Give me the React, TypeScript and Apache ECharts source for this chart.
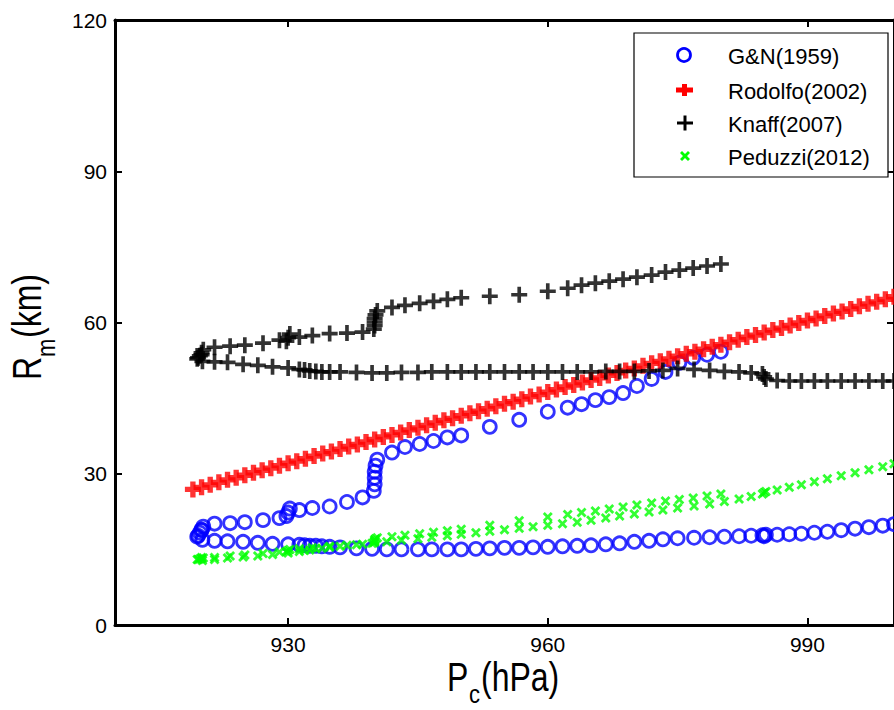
import React, { useEffect, useRef } from "react";
import * as echarts from "echarts";

const FONT = "'Liberation Sans', Arial, Helvetica, sans-serif";

const xTicks = [930, 960, 990];
const yTicks = [0, 30, 60, 90, 120];

const legendNames = ["G&N(1959)", "Rodolfo(2002)", "Knaff(2007)", "Peduzzi(2012)"];

// Intensification branch: central pressure falling from 980 to 920 hPa
const pcUp = [980.0, 978.4, 976.8, 975.2, 973.6, 972.0, 970.3, 968.7, 967.1, 965.5, 963.9, 962.3, 960.0, 956.7, 953.3, 950.0, 948.4, 946.8, 945.2, 943.5, 942.0, 940.3, 940.1, 940.0, 940.0, 940.0, 939.9, 938.6, 936.8, 934.8, 932.8, 931.3, 930.2, 930.0, 929.8, 929.0, 927.1, 925.0, 923.3, 921.5, 920.2, 920.0, 919.8, 919.6];
const gnUp = [54.2, 53.6, 53.0, 52.0, 50.2, 48.8, 47.4, 46.0, 45.2, 44.6, 43.8, 43.1, 42.3, 40.7, 39.3, 37.6, 37.2, 36.5, 35.9, 35.3, 34.2, 32.8, 31.6, 30.4, 29.2, 27.9, 26.6, 25.3, 24.4, 23.5, 23.2, 22.8, 23.1, 22.3, 21.6, 21.2, 20.8, 20.4, 20.2, 20.1, 19.5, 18.9, 18.3, 17.7];
const knUp = [71.6, 71.2, 70.8, 70.4, 70.0, 69.4, 69.0, 68.6, 68.2, 67.8, 67.4, 66.8, 66.2, 65.5, 65.2, 64.9, 64.6, 64.2, 63.8, 63.4, 63.0, 62.3, 61.5, 60.8, 60.1, 59.4, 58.7, 58.1, 57.9, 57.8, 57.4, 57.1, 57.7, 57.0, 56.3, 56.5, 55.9, 55.5, 55.3, 55.1, 54.6, 54.0, 53.4, 53.0];
const peUp = [26.0, 25.6, 25.2, 24.9, 24.6, 24.2, 23.8, 23.4, 23.0, 22.6, 22.3, 21.9, 21.4, 20.7, 19.8, 19.0, 18.7, 18.4, 18.1, 17.8, 17.5, 17.3, 17.1, 16.9, 16.7, 16.5, 16.3, 16.0, 15.8, 15.6, 15.3, 15.1, 15.0, 14.8, 14.6, 14.5, 14.2, 13.9, 13.7, 13.4, 13.3, 13.2, 13.1, 13.0];

// Decay branch: central pressure rising from 920 to 1000 hPa
const pcDown = [919.5, 920.0, 920.1, 921.5, 923.0, 924.8, 926.5, 928.2, 930.0, 931.3, 931.9, 932.5, 933.2, 933.9, 934.8, 936.0, 937.9, 939.7, 941.4, 943.1, 945.0, 946.6, 948.4, 950.0, 951.7, 953.3, 955.0, 956.7, 958.3, 960.0, 961.7, 963.4, 965.0, 966.7, 968.3, 970.0, 971.7, 973.3, 975.0, 976.9, 978.7, 980.4, 982.1, 983.5, 984.8, 985.0, 985.2, 986.5, 987.9, 989.3, 990.8, 992.3, 993.9, 995.5, 997.1, 998.7, 1000.0];
const gnDown = [17.5, 18.8, 16.9, 16.7, 16.6, 16.5, 16.3, 16.1, 16.0, 15.9, 15.8, 15.7, 15.7, 15.6, 15.5, 15.4, 15.2, 15.1, 15.0, 15.0, 15.0, 15.0, 15.0, 15.0, 15.1, 15.2, 15.3, 15.3, 15.4, 15.5, 15.6, 15.7, 15.8, 16.0, 16.2, 16.5, 16.7, 17.0, 17.2, 17.3, 17.4, 17.5, 17.6, 17.7, 17.8, 17.6, 17.9, 17.9, 18.0, 18.1, 18.3, 18.5, 18.8, 19.1, 19.4, 19.7, 20.0];
const knDown = [52.8, 53.6, 52.3, 52.2, 52.1, 51.7, 51.5, 51.2, 51.0, 50.7, 50.6, 50.4, 50.3, 50.2, 50.2, 50.2, 50.1, 50.0, 50.0, 50.1, 50.1, 50.2, 50.2, 50.2, 50.2, 50.2, 50.2, 50.2, 50.2, 50.2, 50.2, 50.2, 50.2, 50.3, 50.3, 50.3, 50.4, 50.5, 50.9, 50.7, 50.5, 50.3, 50.2, 50.0, 49.8, 49.2, 48.8, 48.5, 48.4, 48.4, 48.4, 48.4, 48.4, 48.4, 48.4, 48.4, 48.4];
const peDown = [13.0, 13.4, 12.8, 13.0, 13.3, 13.5, 13.7, 14.0, 14.3, 14.6, 14.8, 14.9, 15.1, 15.2, 15.4, 15.6, 15.9, 16.2, 16.5, 16.8, 17.1, 17.4, 17.7, 18.0, 18.3, 18.6, 18.9, 19.2, 19.5, 19.8, 20.1, 20.4, 20.8, 21.2, 21.6, 22.0, 22.4, 22.8, 23.2, 23.6, 24.0, 24.5, 25.0, 25.5, 26.0, 26.3, 26.5, 26.8, 27.3, 27.8, 28.4, 29.0, 29.6, 30.2, 30.8, 31.4, 32.0];

// Rodolfo (2002)
const pcRod = [919, 920, 921, 922, 923, 924, 925, 926, 927, 928, 929, 930, 931, 932, 933, 934, 935, 936, 937, 938, 939, 940, 941, 942, 943, 944, 945, 946, 947, 948, 949, 950, 951, 952, 953, 954, 955, 956, 957, 958, 959, 960, 961, 962, 963, 964, 965, 966, 967, 968, 969, 970, 971, 972, 973, 974, 975, 976, 977, 978, 979, 980, 981, 982, 983, 984, 985, 986, 987, 988, 989, 990, 991, 992, 993, 994, 995, 996, 997, 998, 999, 1000];
const rodolfo = [26.9, 27.3, 27.8, 28.3, 28.8, 29.2, 29.7, 30.2, 30.7, 31.1, 31.6, 32.1, 32.5, 33.0, 33.5, 34.0, 34.4, 34.9, 35.4, 35.8, 36.3, 36.8, 37.3, 37.7, 38.2, 38.7, 39.1, 39.6, 40.1, 40.6, 41.0, 41.5, 42.0, 42.4, 42.9, 43.4, 43.9, 44.3, 44.8, 45.3, 45.7, 46.2, 46.7, 47.2, 47.6, 48.1, 48.6, 49.0, 49.5, 50.0, 50.5, 50.9, 51.4, 51.9, 52.3, 52.8, 53.3, 53.8, 54.2, 54.7, 55.2, 55.6, 56.1, 56.6, 57.1, 57.5, 58.0, 58.5, 58.9, 59.4, 59.9, 60.4, 60.8, 61.3, 61.8, 62.2, 62.7, 63.2, 63.7, 64.1, 64.6, 65.1];

const pairs = (xs: number[], ys: number[]) => xs.map((x, i) => [x, ys[i]]);

const PLUS_THIN = "path://M5.4,0H8.6V5.4H14V8.6H8.6V14H5.4V8.6H0V5.4H5.4Z";
const PLUS_THICK = "path://M4,0H8V4H12V8H8V12H4V8H0V4H4Z";
const CROSS = "path://M0,2L2,0L5,3L8,0L10,2L7,5L10,8L8,10L5,7L2,10L0,8L3,5Z";

const BLUE = "#0000ff";
const RED = "#ff0000";
const GREEN = "#00ff00";

function textEl(text: string, x: number, y: number, size: number, scaleY = 1) {
  return {
    type: "text",
    x,
    y,
    scaleY,
    style: {
      text,
      fontSize: size,
      fontFamily: FONT,
      fill: "#000",
      align: "left",
      verticalAlign: "middle",
    },
  };
}

export default function App() {
  const ref = useRef<HTMLDivElement>(null);

  useEffect(() => {
    document.body.style.margin = "0";
    if (!ref.current) return;
    const chart = echarts.init(ref.current, null, { renderer: "svg" });

    const axisCommon = {
      type: "value",
      axisLine: { show: true, onZero: false, lineStyle: { color: "#000", width: 3 } },
      splitLine: { show: false },
    };

    const rowY = [55, 90, 123, 156];
    const legendGraphics: any[] = [
      {
        type: "rect",
        shape: { x: 634, y: 33, width: 254, height: 144 },
        style: { fill: "#fff", stroke: "#000", lineWidth: 1.2 },
        z: 10,
      },
      {
        type: "circle",
        shape: { cx: 684, cy: rowY[0], r: 6.5 },
        style: { fill: "none", stroke: BLUE, lineWidth: 2.8 },
        z: 11,
      },
      { type: "rect", shape: { x: 676, y: rowY[1] - 2.5, width: 17, height: 5 }, style: { fill: RED }, z: 11 },
      { type: "rect", shape: { x: 682, y: rowY[1] - 6, width: 5, height: 12 }, style: { fill: RED }, z: 11 },
      { type: "rect", shape: { x: 677, y: rowY[2] - 1.5, width: 16, height: 3 }, style: { fill: "#000" }, z: 11 },
      { type: "rect", shape: { x: 683.5, y: rowY[2] - 7.5, width: 3, height: 15 }, style: { fill: "#000" }, z: 11 },
      {
        type: "polygon",
        shape: {
          points: [
            [680, rowY[3] - 3], [682, rowY[3] - 5], [685, rowY[3] - 2], [688, rowY[3] - 5],
            [690, rowY[3] - 3], [687, rowY[3]], [690, rowY[3] + 3], [688, rowY[3] + 5],
            [685, rowY[3] + 2], [682, rowY[3] + 5], [680, rowY[3] + 3], [683, rowY[3]],
          ],
        },
        style: { fill: GREEN },
        z: 11,
      },
      ...legendNames.map((n, i) => ({ ...textEl(n, 728, rowY[i] + 1, 22), z: 11 })),
    ];

    const option: any = {
      animation: false,
      backgroundColor: "#ffffff",
      grid: { left: 115, right: -1, top: 20, bottom: 85, containLabel: false },
      xAxis: [
        {
          ...axisCommon,
          min: 910,
          max: 1000,
          position: "bottom",
          axisTick: { show: true, inside: true, length: 7, customValues: xTicks, lineStyle: { color: "#000", width: 2 } },
          axisLabel: { show: true, customValues: xTicks, color: "#000", fontSize: 21, fontFamily: FONT, margin: 9 },
        },
        {
          ...axisCommon,
          min: 910,
          max: 1000,
          position: "top",
          axisTick: { show: true, inside: true, length: 7, customValues: xTicks, lineStyle: { color: "#000", width: 2 } },
          axisLabel: { show: false },
        },
      ],
      yAxis: [
        {
          ...axisCommon,
          min: 0,
          max: 120,
          interval: 30,
          position: "left",
          axisTick: { show: true, inside: true, length: 7, lineStyle: { color: "#000", width: 2 } },
          axisLabel: {
            show: true,
            color: "#000",
            fontSize: 21,
            fontFamily: FONT,
            margin: 8,
            formatter: (v: number) => (yTicks.includes(v) ? String(v) : ""),
          },
        },
        {
          ...axisCommon,
          min: 0,
          max: 120,
          interval: 30,
          position: "right",
          axisTick: { show: true, inside: true, length: 7, lineStyle: { color: "#000", width: 2 } },
          axisLabel: { show: false },
        },
      ],
      series: [
        {
          name: legendNames[0],
          type: "scatter",
          symbol: "circle",
          symbolSize: 13,
          itemStyle: { color: "rgba(0,0,0,0)", borderColor: BLUE, borderWidth: 2.8 },
          data: [...pairs(pcUp, gnUp), ...pairs(pcDown, gnDown)],
        },
        {
          name: legendNames[1],
          type: "scatter",
          symbol: PLUS_THICK,
          symbolSize: 16,
          itemStyle: { color: RED },
          data: pairs(pcRod, rodolfo),
        },
        {
          name: legendNames[2],
          type: "scatter",
          symbol: PLUS_THIN,
          symbolSize: 16,
          itemStyle: { color: "#000" },
          data: [...pairs(pcUp, knUp), ...pairs(pcDown, knDown)],
        },
        {
          name: legendNames[3],
          type: "scatter",
          symbol: CROSS,
          symbolSize: 10,
          itemStyle: { color: GREEN },
          data: [...pairs(pcUp, peUp), ...pairs(pcDown, peDown)],
        },
      ],
      graphic: [
        textEl("P", 447, 677, 32, 1.25),
        textEl("c", 469, 694, 22, 1.15),
        textEl("(hPa)", 481, 677, 32, 1.25),
        {
          type: "group",
          x: 27,
          y: 380,
          rotation: Math.PI / 2,
          children: [
            textEl("R", 0, 0, 32, 1.25),
            textEl("m", 23, 19, 22, 1.15),
            textEl("(km)", 42, 0, 32, 1.25),
          ],
        },
        ...legendGraphics,
      ],
    };

    chart.setOption(option);
    return () => chart.dispose();
  }, []);

  return (
    <div
      ref={ref}
      style={{ position: "absolute", left: 0, top: 0, width: 894, height: 710, background: "#fff" }}
    />
  );
}
